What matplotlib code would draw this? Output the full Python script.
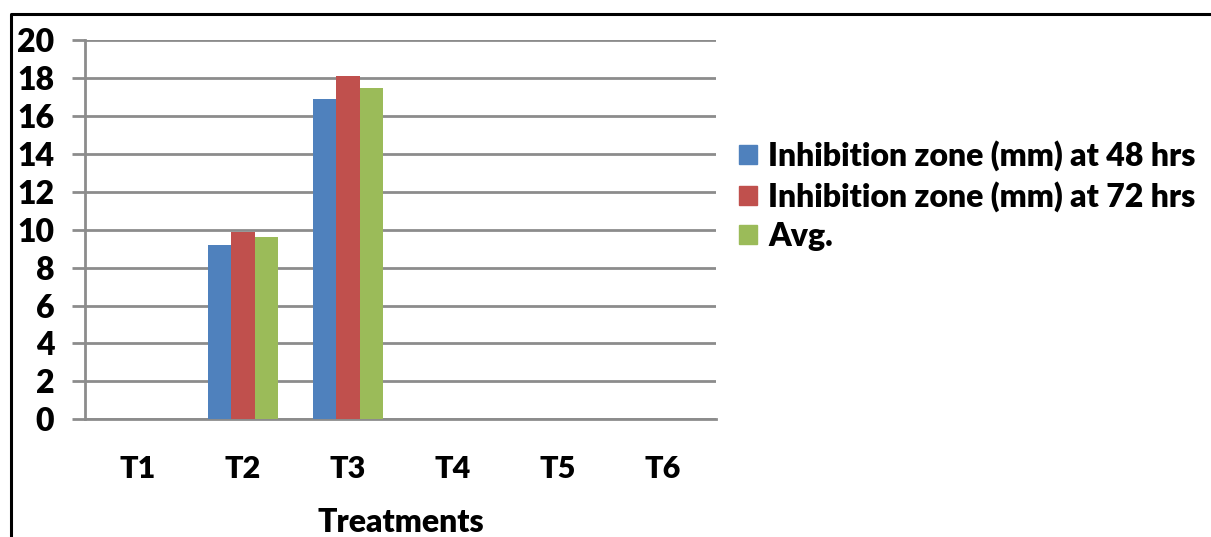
import numpy as np
import matplotlib
matplotlib.use("Agg")
import matplotlib.pyplot as plt
from matplotlib.patches import Patch
from matplotlib.lines import Line2D

plt.rcParams['font.family'] = ['Lato', 'DejaVu Sans']
plt.rcParams['font.weight'] = 'bold'

categories = ["T1", "T2", "T3", "T4", "T5", "T6"]
zone_48 = [0, 9.2, 16.9, 0, 0, 0]
zone_72 = [0, 9.9, 18.1, 0, 0, 0]
zone_avg = [0, 9.6, 17.45, 0, 0, 0]
series_names = ["Inhibition zone (mm) at 48 hrs",
                "Inhibition zone (mm) at 72 hrs",
                "Avg."]
colors = ["#4F81BD", "#C0504D", "#9BBB59"]
GRID = "#8C8C8C"

fig = plt.figure(figsize=(12.11, 5.37), dpi=100)
ax = fig.add_axes([0.0705, 0.2192, 0.5205, 0.7063])

x = np.arange(len(categories))
w = 0.225
for i, vals in enumerate([zone_48, zone_72, zone_avg]):
    ax.bar(x + (i - 1) * w, vals, width=w, color=colors[i], zorder=3)

ax.set_xlim(-0.5, len(categories) - 0.5)
ax.set_ylim(0, 20)
ax.set_yticks(range(0, 21, 2))
ax.set_xticks(x)
ax.set_xticklabels(categories)
ax.yaxis.grid(True, color=GRID, linewidth=2, zorder=0)
ax.set_axisbelow(True)

for s in ["top", "right"]:
    ax.spines[s].set_visible(False)
for s in ["left", "bottom"]:
    ax.spines[s].set_color(GRID)
    ax.spines[s].set_linewidth(2)

ax.tick_params(axis="y", length=9.4, width=2, color=GRID, labelsize=23, pad=13)
ax.tick_params(axis="x", length=0, labelsize=22, pad=26)
for lab in ax.get_xticklabels() + ax.get_yticklabels():
    lab.set_fontweight("heavy")
ax.set_xlabel("Treatments", fontsize=23, fontweight="heavy", labelpad=18)

handles = [Patch(color=c) for c in colors]
fig.legend(handles, series_names, loc="center left",
           bbox_to_anchor=(0.600, 0.636), frameon=False,
           prop={"size": 23, "weight": "heavy"},
           handlelength=0.55, handleheight=0.55, handletextpad=0.35,
           labelspacing=0.3, borderaxespad=0)

# outer frame (top and left only)
fig.add_artist(Line2D([0.009, 0.009, 1.0], [0.0, 0.974, 0.974],
                      transform=fig.transFigure, color="black", linewidth=2.2))

fig.savefig("out.png", dpi=100)
